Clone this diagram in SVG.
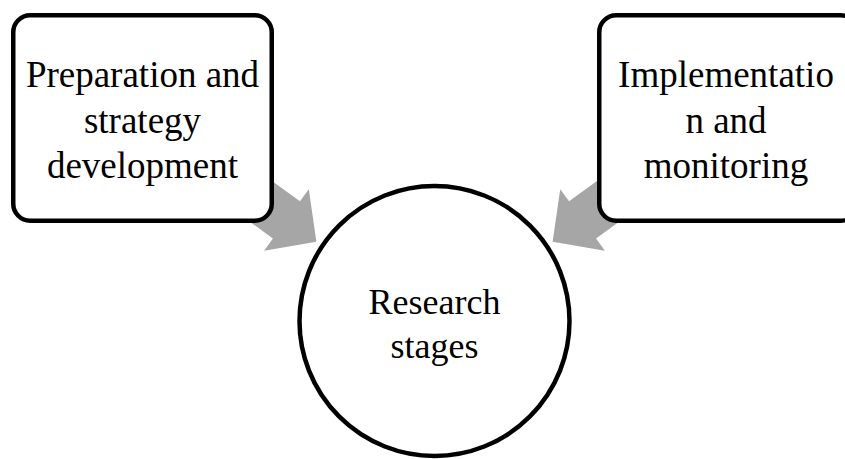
<svg xmlns="http://www.w3.org/2000/svg" width="845" height="459" viewBox="0 0 845 459">
<style>
.box{fill:#ffffff;stroke:#000000;stroke-width:4.5}
.arrow{fill:#a6a6a6;stroke:none}
.t{font-family:"Liberation Serif","Times New Roman",serif;font-size:37px;fill:#000000;text-anchor:middle}
.tc{font-family:"Liberation Serif","Times New Roman",serif;font-size:36px;fill:#000000;text-anchor:middle}
</style>
<defs>
<polygon id="blockArrow" points="0,-23 61,-23 61,-38 98,0 61,38 61,23 0,23"/>
</defs>
<rect width="845" height="459" fill="#ffffff"/>
<g id="connectors">
<use href="#blockArrow" class="arrow" transform="translate(237.1,184.1) rotate(36)"/>
<use href="#blockArrow" class="arrow" transform="translate(631.9,184.1) rotate(144)"/>
</g>
<g id="node-preparation">
<rect class="box" x="13.25" y="15.25" width="258.5" height="205.5" rx="17"/>
<text class="t" x="142.5" y="87">Preparation and</text>
<text class="t" x="142.5" y="133">strategy</text>
<text class="t" x="142.5" y="178">development</text>
</g>
<g id="node-implementation">
<rect class="box" x="599.25" y="15.25" width="258.5" height="205.5" rx="17"/>
<text class="t" x="726" y="87">Implementatio</text>
<text class="t" x="726" y="133">n and</text>
<text class="t" x="726" y="178">monitoring</text>
</g>
<g id="node-research">
<circle cx="434.5" cy="321" r="135" fill="#ffffff" stroke="#000000" stroke-width="4.5"/>
<text class="tc" x="434.5" y="314">Research</text>
<text class="tc" x="434.5" y="358">stages</text>
</g>
</svg>
